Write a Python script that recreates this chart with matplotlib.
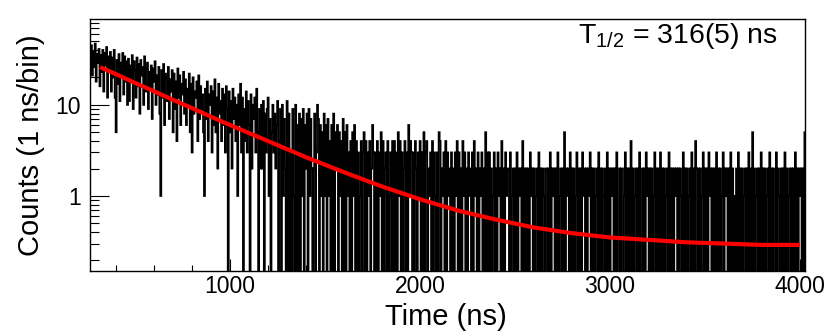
import numpy as np
import matplotlib
matplotlib.use("Agg")
from matplotlib import pyplot as plt
from matplotlib import ticker

plt.rcParams["font.family"] = ["Liberation Sans", "DejaVu Sans"]
plt.rcParams["mathtext.fontset"] = "custom"
plt.rcParams["mathtext.rm"] = "Liberation Sans"
plt.rcParams["mathtext.it"] = "Liberation Sans:italic"

# histogram, one value per 5 ns, first edge at 263 ns
bin_start = 263
bin_width = 5

# 263 - 1163 ns, 20 values (100 ns) per row
early_counts = [
    [33, 45, 21, 39, 26, 47, 18, 36, 29, 41, 16, 35, 23, 40, 14, 37, 27, 43, 12, 34],
    [25, 38, 14, 33, 20, 40, 12, 5, 31, 17, 36, 11, 29, 22, 37, 13, 34, 18, 30, 10],
    [32, 11, 27, 19, 35, 9, 30, 24, 12, 33, 16, 28, 8, 31, 21, 26, 10, 34, 14, 25],
    [29, 9, 23, 15, 27, 7, 25, 18, 30, 10, 21, 13, 26, 8, 1, 24, 12, 28, 6, 22],
    [20, 11, 26, 7, 19, 14, 24, 5, 22, 9, 18, 4, 25, 12, 21, 6, 17, 13, 23, 8],
    [19, 6, 15, 10, 22, 5, 17, 3, 20, 8, 14, 12, 18, 4, 21, 7, 16, 9, 13, 5],
    [1, 15, 7, 18, 4, 13, 10, 16, 3, 14, 6, 19, 5, 12, 2, 17, 8, 11, 4, 15],
    [6, 13, 3, 16, 9, 0, 14, 5, 11, 2, 15, 7, 12, 4, 10, 1, 13, 6, 17, 3],
    [12, 0, 9, 4, 14, 3, 11, 6, 0, 13, 2, 10, 7, 12, 3, 15, 5, 0, 9, 2],
]

# 1163 - 4028 ns, one base-36 digit per value
late_counts = [
    "a2b0839c1705a3826b04",
    "90a1720b08030910a060",
    "8071906280917202803a",
    "70615081607140608052",
    "60514070506130405160",
    "40301403504031402630",
    "30403150402304013040",
    "40305140302403061430",
    "30420314030503402130",
    "40310305402130403120",
    "30203140302041302031",
    "20304120302130205030",
    "30201302031204020312",
    "20301202030212040202",
    "02031202012030202102",
    "20203021202030120205",
    "02120302020130202031",
    "20202130202012030202",
    "10203020212020300202",
    "20130202040201202030",
    "02020312020201302020",
    "30202012030202021202",
    "02103020201203020420",
    "20201302020312020203",
    "02020130212020302010",
    "20302020120203020502",
    "01202030202012030202",
    "20302102020302012020",
    "2030202120205",
]

# fit curve
fit_time = [316, 400, 500, 600, 700, 800, 900, 1000, 1200, 1400, 1600, 1800,
            2000, 2200, 2400, 2600, 2800, 3000, 3200, 3400, 3600, 3800, 4000]
fit_counts = [25.9, 21.7, 17.4, 14.1, 11.35, 9.2, 7.4, 6.0, 4.0, 2.66, 1.82, 1.27,
              0.92, 0.69, 0.55, 0.45, 0.39, 0.35, 0.33, 0.31, 0.30, 0.29, 0.29]

counts = [c for row in early_counts for c in row]
counts += [int(ch, 36) for row in late_counts for ch in row]
counts = np.array(counts, dtype=float)
edges = bin_start + bin_width * np.arange(len(counts) + 1)

# empty bins drop below the frame on the log axis
shown = np.where(counts > 0, counts, 0.01)

fig = plt.figure(figsize=(8.3, 3.33), dpi=100)
ax = fig.add_axes([90 / 830, 1 - 271 / 333, 715 / 830, 252 / 333])

ax.stairs(shown, edges, color="black", lw=1.3, baseline=None)
ax.plot(fit_time, fit_counts, color="#ff0000", lw=3.0, solid_capstyle="butt")

ax.set_yscale("log")
ax.set_xlim(263, 4026)
ax.set_ylim(0.15, 87.5)

ax.xaxis.set_major_locator(ticker.FixedLocator([1000, 2000, 3000, 4000]))
ax.xaxis.set_minor_locator(ticker.MultipleLocator(200))
ax.yaxis.set_major_locator(ticker.LogLocator(base=10, numticks=20))
ax.yaxis.set_minor_locator(ticker.LogLocator(base=10, subs=np.arange(2, 10), numticks=20))
ax.yaxis.set_major_formatter(ticker.FuncFormatter(lambda v, p: f"{v:g}"))
ax.yaxis.set_minor_formatter(ticker.NullFormatter())

ax.tick_params(which="both", direction="in", top=False, right=False,
               labelsize=16.5, width=0.8, colors="black")
ax.tick_params(axis="x", which="major", length=8.6, pad=3)
ax.tick_params(axis="x", which="minor", length=4.3)
ax.tick_params(axis="y", which="major", length=13.7, pad=6.5)
ax.tick_params(axis="y", which="minor", length=6.8)
for sp in ax.spines.values():
    sp.set_linewidth(1.0)

fig.text(446 / 830, 1 - 325 / 333, "Time (ns)", fontsize=21, ha="center", va="baseline")
fig.text(31 / 830, 1 - 145 / 333, "Counts (1 ns/bin)", fontsize=21, rotation=90,
         ha="center", va="center")
fig.text(578 / 830, 1 - 43.3 / 333, r"T$_{\mathrm{1/2}}$ = 316(5) ns", fontsize=20.5,
         ha="left", va="baseline")

fig.savefig("out.png", dpi=100)
